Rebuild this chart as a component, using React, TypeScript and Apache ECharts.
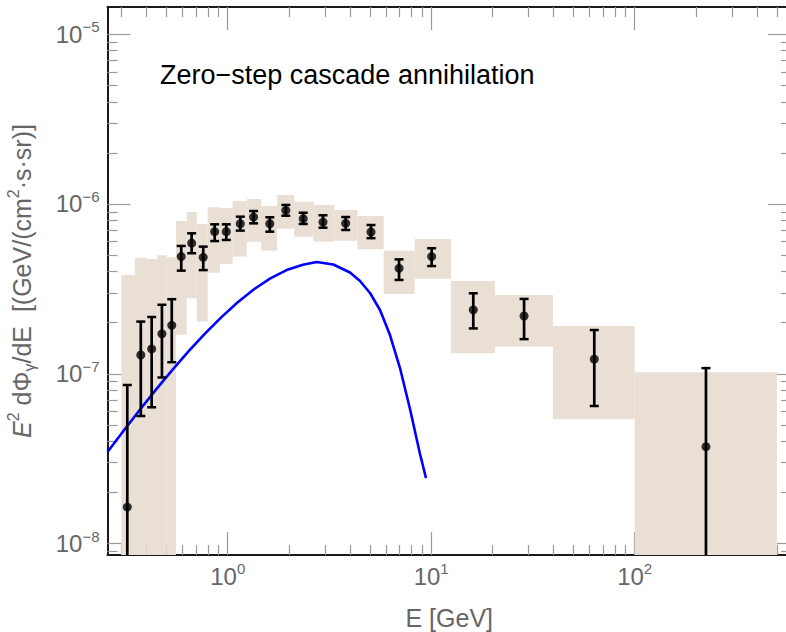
import React, { useEffect, useRef } from "react";
import * as echarts from "echarts";

// ---- data ----
const binEdges = [0.3, 0.35, 0.4, 0.45, 0.5, 0.557, 0.629, 0.705, 0.797, 0.916, 1.058, 1.24, 1.46, 1.75, 2.12, 2.64, 3.34, 4.34, 5.84, 8.3, 12.5, 20.6, 39.7, 100, 500];
const boxLow = [1e-9, 1e-9, 1e-9, 1e-9, 1e-9, 1.7e-7, 2.79e-7, 2.03e-7, 3.94e-7, 4.43e-7, 4.9e-7, 6.0e-7, 5.31e-7, 7.16e-7, 6.42e-7, 6.0e-7, 6.08e-7, 5.41e-7, 2.95e-7, 3.63e-7, 1.32e-7, 1.45e-7, 5.4e-8, 1e-9];
const boxHigh = [3.82e-7, 4.83e-7, 4.75e-7, 4.99e-7, 4.85e-7, 7.94e-7, 8.97e-7, 7.63e-7, 9.56e-7, 9.47e-7, 1.04e-6, 1.07e-6, 9.73e-7, 1.13e-6, 1.03e-6, 9.87e-7, 9.22e-7, 8.5e-7, 5.31e-7, 6.22e-7, 3.52e-7, 2.91e-7, 1.91e-7, 1.02e-7];

const pointE = [0.321, 0.374, 0.423, 0.475, 0.531, 0.591, 0.665, 0.758, 0.863, 0.984, 1.153, 1.34, 1.61, 1.93, 2.35, 2.94, 3.8, 5.06, 6.95, 10.05, 16.1, 28.6, 63.3, 224];
const pointFlux = [1.64e-8, 1.29e-7, 1.4e-7, 1.72e-7, 1.93e-7, 4.9e-7, 5.88e-7, 4.85e-7, 6.87e-7, 6.87e-7, 7.65e-7, 8.38e-7, 7.65e-7, 9.18e-7, 8.19e-7, 7.83e-7, 7.69e-7, 6.84e-7, 4.18e-7, 4.9e-7, 2.38e-7, 2.19e-7, 1.22e-7, 3.72e-8];
const errLow = [1e-9, 5.64e-8, 6.35e-8, 9.51e-8, 1.17e-7, 4.05e-7, 5.13e-7, 4.08e-7, 6.05e-7, 6.14e-7, 6.97e-7, 7.69e-7, 6.87e-7, 8.53e-7, 7.63e-7, 7.25e-7, 7.03e-7, 6.29e-7, 3.57e-7, 4.31e-7, 1.85e-7, 1.6e-7, 6.46e-8, 1e-9];
const errHigh = [8.59e-8, 2.03e-7, 2.16e-7, 2.55e-7, 2.75e-7, 5.66e-7, 6.72e-7, 5.61e-7, 7.59e-7, 7.59e-7, 8.42e-7, 9.09e-7, 8.35e-7, 9.87e-7, 8.88e-7, 8.58e-7, 8.38e-7, 7.52e-7, 4.72e-7, 5.49e-7, 2.98e-7, 2.76e-7, 1.81e-7, 1.08e-7];

const curveE = [0.2566, 0.3085, 0.3709, 0.446, 0.5362, 0.6446, 0.775, 0.9318, 1.1202, 1.3468, 1.6193, 1.9468, 2.3406, 2.737, 3.3034, 3.9902, 4.4678, 5.0038, 5.6026, 6.2734, 7.0259, 7.8673, 8.8105, 9.43];
const curveFlux = [3.464e-8, 4.635e-8, 6.165e-8, 8.126e-8, 1.059e-7, 1.363e-7, 1.729e-7, 2.157e-7, 2.637e-7, 3.147e-7, 3.646e-7, 4.08e-7, 4.392e-7, 4.553e-7, 4.402e-7, 3.95e-7, 3.521e-7, 2.991e-7, 2.376e-7, 1.692e-7, 1.081e-7, 6.204e-8, 3.371e-8, 2.428e-8];

const xMajorTicks = [1, 10, 100];
const xMinorTicks = [0.3, 0.4, 0.5, 0.6, 0.7, 0.8, 0.9, 2, 3, 4, 5, 6, 7, 8, 9, 20, 30, 40, 50, 60, 70, 80, 90, 200, 300, 400, 500];
const yMajorTicks = [1e-8, 1e-7, 1e-6, 1e-5];
const yMinorTicks = [
  9e-9,
  2e-8, 3e-8, 4e-8, 5e-8, 6e-8, 7e-8, 8e-8, 9e-8,
  2e-7, 3e-7, 4e-7, 5e-7, 6e-7, 7e-7, 8e-7, 9e-7,
  2e-6, 3e-6, 4e-6, 5e-6, 6e-6, 7e-6, 8e-6, 9e-6,
];
const xRange = [0.2566, 586.3];
const yRange = [8.566e-9, 1.446e-5];

const TITLE = "Zero\u2212step cascade annihilation";
const X_NAME = "E [GeV]";

const L = Math.log10;
const FONT = "Liberation Sans, Arial, Helvetica, sans-serif";
const GRAY = "#666666";
const TICK = "#9a9a9a";
const FRAME = "#1a1a1a";
const BOX = "#e9dfd5";

function supLabel(v: number) {
  const n = Math.round(v);
  const s = n < 0 ? "\u2212" + Math.abs(n) : String(n);
  return "{b|10}{s|" + s + "}";
}

const labelRich = {
  b: { fontSize: 24, lineHeight: 30, color: GRAY, fontFamily: FONT, verticalAlign: "middle" },
  s: { fontSize: 15, lineHeight: 15, color: GRAY, fontFamily: FONT, verticalAlign: "top" },
};

function axisBase(min: number, max: number) {
  return {
    type: "value",
    min,
    max,
    scale: true,
    splitLine: { show: false },
    axisPointer: { show: false },
  } as any;
}

export default function App() {
  const ref = useRef<HTMLDivElement>(null);

  useEffect(() => {
    if (!ref.current) return;
    const chart = echarts.init(ref.current, null, { renderer: "svg" });

    const xmin = L(xRange[0]);
    const xmax = L(xRange[1]);
    const ymin = L(yRange[0]);
    const ymax = L(yRange[1]);

    const xMaj = xMajorTicks.map(L);
    const xMin = xMinorTicks.map(L);
    const yMaj = yMajorTicks.map(L);
    const yMin = yMinorTicks.map(L);

    const tickStyle = (len: number, vals: number[]) => ({
      show: true,
      inside: true,
      length: len,
      customValues: vals,
      lineStyle: { color: TICK, width: 1.2 },
    });

    const xAxes = [
      {
        ...axisBase(xmin, xmax),
        position: "bottom",
        axisLine: { show: true, onZero: false, lineStyle: { color: FRAME, width: 2 } },
        axisTick: tickStyle(23, xMaj),
        axisLabel: {
          show: true,
          customValues: xMaj,
          margin: 6,
          formatter: (v: number) => supLabel(v),
          rich: labelRich,
        },
        name: X_NAME,
        nameLocation: "middle",
        nameGap: 50,
        nameTextStyle: { fontSize: 25, color: GRAY, fontFamily: FONT },
      },
      {
        ...axisBase(xmin, xmax),
        position: "bottom",
        axisLine: { show: false, onZero: false },
        axisTick: tickStyle(10, xMin),
        axisLabel: { show: false },
      },
      {
        ...axisBase(xmin, xmax),
        position: "top",
        axisLine: { show: true, onZero: false, lineStyle: { color: FRAME, width: 2 } },
        axisTick: tickStyle(23, xMaj),
        axisLabel: { show: false },
      },
      {
        ...axisBase(xmin, xmax),
        position: "top",
        axisLine: { show: false, onZero: false },
        axisTick: tickStyle(10, xMin),
        axisLabel: { show: false },
      },
    ];

    const yAxes = [
      {
        ...axisBase(ymin, ymax),
        position: "left",
        axisLine: { show: true, onZero: false, lineStyle: { color: FRAME, width: 2 } },
        axisTick: tickStyle(23, yMaj),
        axisLabel: {
          show: true,
          customValues: yMaj,
          margin: 8,
          formatter: (v: number) => supLabel(v),
          rich: labelRich,
        },
        name:
          "{i|E}{sp|2}{n| d\u03a6}{sb|\u03b3}{n|/dE  [(GeV/(cm}{sp|2}{n|\u00b7s\u00b7sr)]}",
        nameLocation: "middle",
        nameRotate: 90,
        nameGap: 70,
        nameTextStyle: {
          fontSize: 25,
          color: GRAY,
          fontFamily: FONT,
          rich: {
            i: { fontSize: 25, lineHeight: 32, fontStyle: "italic", color: GRAY, fontFamily: FONT },
            n: { fontSize: 25, lineHeight: 32, color: GRAY, fontFamily: FONT },
            sp: { fontSize: 16, lineHeight: 16, verticalAlign: "top", color: GRAY, fontFamily: FONT },
            sb: { fontSize: 16, lineHeight: 16, verticalAlign: "bottom", color: GRAY, fontFamily: FONT },
          },
        },
      },
      {
        ...axisBase(ymin, ymax),
        position: "left",
        axisLine: { show: false, onZero: false },
        axisTick: tickStyle(10, yMin),
        axisLabel: { show: false },
      },
      {
        ...axisBase(ymin, ymax),
        position: "right",
        axisLine: { show: true, onZero: false, lineStyle: { color: FRAME, width: 2 } },
        axisTick: tickStyle(23, yMaj),
        axisLabel: { show: false },
      },
      {
        ...axisBase(ymin, ymax),
        position: "right",
        axisLine: { show: false, onZero: false },
        axisTick: tickStyle(10, yMin),
        axisLabel: { show: false },
      },
    ];

    const boxData = boxLow.map((lo, i) => [L(binEdges[i]), L(binEdges[i + 1]), L(lo), L(boxHigh[i])]);
    const errData = pointE.map((e, i) => [L(e), L(errLow[i]), L(errHigh[i])]);
    const pointData = pointE.map((e, i) => [L(e), L(pointFlux[i])]);
    const curveData = curveE.map((e, i) => [L(e), L(curveFlux[i])]);

    const option: any = {
      animation: false,
      backgroundColor: "#ffffff",
      grid: {
        left: 107.5,
        right: 9,
        top: 7,
        bottom: 77,
        containLabel: false,
        outerBoundsMode: "none",
      },
      xAxis: xAxes,
      yAxis: yAxes,
      graphic: [
        {
          type: "text",
          left: 160,
          top: 61,
          z: 100,
          style: { text: TITLE, fontSize: 27, fill: "#000000", fontFamily: FONT },
        },
      ],
      series: [
        {
          type: "custom",
          name: "boxes",
          z: 1,
          xAxisIndex: 0,
          yAxisIndex: 0,
          encode: { x: [0, 1], y: [2, 3] },
          data: boxData,
          silent: true,
          renderItem: (params: any, api: any) => {
            const p0 = api.coord([api.value(0), api.value(3)]);
            const p1 = api.coord([api.value(1), api.value(2)]);
            const cs = params.coordSys;
            const shape = echarts.graphic.clipRectByRect(
              { x: p0[0], y: p0[1], width: p1[0] - p0[0], height: p1[1] - p0[1] },
              { x: cs.x, y: cs.y, width: cs.width, height: cs.height }
            );
            if (!shape) return null;
            return { type: "rect", shape, style: { fill: BOX } };
          },
        },
        {
          type: "line",
          name: "model",
          z: 3,
          xAxisIndex: 0,
          yAxisIndex: 0,
          data: curveData,
          showSymbol: false,
          smooth: false,
          clip: true,
          lineStyle: { color: "#0000ff", width: 2.6, join: "round", cap: "butt" },
          silent: true,
        },
        {
          type: "custom",
          name: "errors",
          z: 4,
          xAxisIndex: 0,
          yAxisIndex: 0,
          encode: { x: 0, y: [1, 2] },
          data: errData,
          silent: true,
          renderItem: (params: any, api: any) => {
            const cs = params.coordSys;
            const top = api.coord([api.value(0), api.value(2)]);
            const bot = api.coord([api.value(0), api.value(1)]);
            const x = top[0];
            const yTop = Math.max(top[1], cs.y);
            const yBot = Math.min(bot[1], cs.y + cs.height);
            const half = 4.5;
            const children: any[] = [
              { type: "line", shape: { x1: x, y1: yTop, x2: x, y2: yBot }, style: { stroke: "#000", lineWidth: 2.7 } },
            ];
            if (top[1] >= cs.y) {
              children.push({ type: "line", shape: { x1: x - half, y1: top[1], x2: x + half, y2: top[1] }, style: { stroke: "#000", lineWidth: 2.5 } });
            }
            if (bot[1] <= cs.y + cs.height) {
              children.push({ type: "line", shape: { x1: x - half, y1: bot[1], x2: x + half, y2: bot[1] }, style: { stroke: "#000", lineWidth: 2.5 } });
            }
            return { type: "group", children };
          },
        },
        {
          type: "scatter",
          name: "points",
          z: 5,
          xAxisIndex: 0,
          yAxisIndex: 0,
          data: pointData,
          symbol: "circle",
          symbolSize: 9,
          itemStyle: { color: "#000000" },
          silent: true,
        },
      ],
    };

    chart.setOption(option);
    return () => chart.dispose();
  }, []);

  return (
    <div style={{ position: "fixed", left: 0, top: 0, width: 786, height: 632, overflow: "hidden", background: "#fff" }}>
      <div ref={ref} style={{ width: 800, height: 632 }} />
    </div>
  );
}
